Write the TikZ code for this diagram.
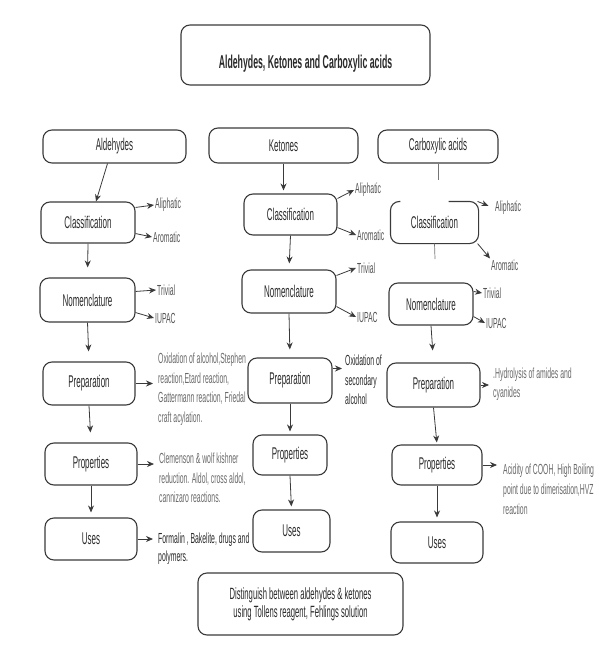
\documentclass[tikz,border=0pt]{standalone}
\usepackage{fontspec}
\setmainfont{Liberation Sans}[FakeStretch=0.47]
\usetikzlibrary{arrows.meta}
\definecolor{boxgray}{HTML}{3A3A3A}
\definecolor{inkdark}{HTML}{2A2A2A}
\definecolor{tagray}{HTML}{555555}
\definecolor{notegray}{HTML}{6A6A6A}

\begin{document}
\begin{tikzpicture}[x=1pt, y=-1pt,
	box/.style={draw=boxgray, line width=1.1pt, rounded corners=9pt, text=inkdark, font=\fontsize{17}{20}\selectfont, inner sep=2pt},
	boxline/.style={draw=boxgray, line width=1.1pt, rounded corners=9pt},
	tag/.style={text=tagray, font=\fontsize{14.6}{16}\selectfont, inner sep=1pt, anchor=west},
	note/.style={text=notegray, font=\fontsize{14.6}{19.5}\selectfont, align=left, inner sep=1pt, anchor=west},
	arr/.style={draw=boxgray, line width=0.8pt, -{Stealth[length=7pt,width=6pt]}},
	stub/.style={draw=boxgray!70, line width=0.7pt}]
			%%%%% START %%%%%
			
			\useasboundingbox (0,0) rectangle (613,647);
			
			\node[box, minimum width=249pt, minimum height=60pt, font=\bfseries\fontsize{18.6}{22}\selectfont, text height=30pt, text depth=2pt] (title) at (305.5,55) {Aldehydes, Ketones and Carboxylic acids};
			
			\node[box, minimum width=143pt, minimum height=33pt] (ald) at (114.5,146.5) {Aldehydes};
			\node[box, minimum width=149pt, minimum height=35pt] (ket) at (283.5,145.5) {Ketones};
			\node[box, minimum width=120pt, minimum height=33pt] (carb) at (438,146.5) {Carboxylic acids};
			
			\node[box, minimum width=94pt, minimum height=41pt] (acl) at (88,222.5) {Classification};
			\node[box, minimum width=95pt, minimum height=44pt] (anm) at (87.5,300) {Nomenclature};
			\node[box, minimum width=92pt, minimum height=43pt] (apr) at (89,383.5) {Preparation};
			\node[box, minimum width=92pt, minimum height=42pt] (apo) at (91,464) {Properties};
			\node[box, minimum width=92pt, minimum height=42pt] (aus) at (91,539) {Uses};
			
			\node[box, minimum width=93pt, minimum height=41pt] (kcl) at (290.5,214.5) {Classification};
			\node[box, minimum width=94pt, minimum height=43pt] (knm) at (289,291.5) {Nomenclature};
			\node[box, minimum width=84pt, minimum height=45pt] (kpr) at (290,380.5) {Preparation};
			\node[box, minimum width=74pt, minimum height=40pt] (kpo) at (290,455) {Properties};
			\node[box, minimum width=77pt, minimum height=42pt] (kus) at (291.5,531) {Uses};
			
			\node[box, draw=none, minimum width=87pt, minimum height=41pt] (ccl) at (434.5,222.5) {Classification};
			\draw[boxline] ([xshift=14pt]ccl.north) -- (ccl.north east) -- (ccl.south east) -- (ccl.south west) -- (ccl.north west) -- ([xshift=10pt]ccl.north west);
			\node[box, minimum width=84pt, minimum height=42pt] (cnm) at (431,304) {Nomenclature};
			\node[box, minimum width=93pt, minimum height=44pt] (cpr) at (433.5,385) {Preparation};
			\node[box, minimum width=90pt, minimum height=40pt] (cpo) at (437,465) {Properties};
			\node[box, minimum width=92pt, minimum height=41pt] (cus) at (437,542.5) {Uses};
			
			\node[box, minimum width=205pt, minimum height=62pt, align=center, font=\fontsize{16.3}{18}\selectfont] (dis) at (300.5,604) {Distinguish between aldehydes \& ketones\\using Tollens reagent, Fehlings solution};
			
			% aldehydes side texts
			\node[tag] (aal) at (154,205) {Aliphatic};
			\node[tag] (aar) at (152,237) {Aromatic};
			\node[tag] (atr) at (156,290) {Trivial};
			\node[tag] (aiu) at (154,318) {IUPAC};
			\node[note] (apd) at (157,389) {Oxidation of alcohol,Stephen\\reaction,Etard reaction,\\Gattermann reaction, Friedal\\craft acylation.};
			\node[note] (aod) at (158,478) {Clemenson \& wolf kishner\\reduction. Aldol, cross aldol,\\cannizaro reactions.};
			\node[note, text=inkdark, font=\fontsize{14.6}{18}\selectfont] (aud) at (157,549) {Formalin , Bakelite, drugs and\\polymers.};
			
			% ketones side texts
			\node[tag] (kal) at (354,190) {Aliphatic};
			\node[tag] (kar) at (356,235) {Aromatic};
			\node[tag] (ktr) at (356,268) {Trivial};
			\node[tag] (kiu) at (356,317) {IUPAC};
			\node[note, text=inkdark] (kpd) at (344,380) {Oxidation of\\secondary\\alcohol};
			
			% carboxylic side texts
			\node[tag] (cal) at (494,208) {Aliphatic};
			\node[tag] (car) at (490,265) {Aromatic};
			\node[tag] (ctr) at (482,293) {Trivial};
			\node[tag] (ciu) at (485,323) {IUPAC};
			\node[note] (cpd) at (492,384) {.Hydrolysis of amides and\\cyanides};
			\node[note, font=\fontsize{14.6}{20}\selectfont] (cod) at (502,489) {Acidity of COOH, High Boiling\\point due to dimerisation,HVZ\\reaction};
			
			\coordinate (cst1) at (438,180);
			\coordinate (cst2) at (435,259);
			
			% downward links
			\draw[arr] ([xshift=-7pt]ald.south) -- ([xshift=8pt]acl.north);
			\draw[arr, shorten >=10pt] (acl.south) -- (anm.north);
			\draw[arr, shorten >=10pt] (anm.south) -- (apr.north);
			\draw[arr, shorten >=10pt] (apr.south) -- (apo.north);
			\draw[arr, shorten >=5pt] (apo.south) -- (aus.north);
			
			\draw[arr, shorten >=3pt] (ket.south) -- (ket.south |- kcl.north);
			\draw[arr, shorten >=6pt] (kcl.south) -- (knm.north);
			\draw[arr, shorten >=8pt] (knm.south) -- (kpr.north);
			\draw[arr, shorten >=3pt] (kpr.south) -- (kpo.north);
			\draw[arr, shorten >=3pt] (kpo.south) -- (kus.north);
			
			\draw[stub] (carb.south) -- (cst1);
			\draw[stub] (ccl.south) -- (cst2);
			\draw[arr, shorten >=12pt] (cnm.south) -- (cpr.north);
			\draw[arr, shorten >=2pt] (cpr.south) -- (cpo.north);
			\draw[arr, shorten >=4pt] (cpo.south) -- (cus.north);
			
			% side links
			\draw[arr] ([yshift=-6pt]acl.north east) -- (aal.west);
			\draw[arr] ([yshift=10pt]acl.south east) -- (aar.west);
			\draw[arr] ([yshift=-14pt]anm.north east) -- (atr.west);
			\draw[arr] ([yshift=10pt]anm.south east) -- (aiu.west);
			\draw[arr, shorten >=4pt] (apr.east) -- (apr.east -| apd.west);
			\draw[arr, shorten >=4pt] (apo.east) -- (apo.east -| aod.west);
			\draw[arr, shorten >=4pt] (aus.east) -- (aus.east -| aud.west);
			
			\draw[arr] ([yshift=-5pt]kcl.north east) -- (kal.west);
			\draw[arr] ([yshift=8pt]kcl.south east) -- (kar.west);
			\draw[arr] ([yshift=-6pt]knm.north east) -- (ktr.west);
			\draw[arr] ([yshift=7pt]knm.south east) -- (kiu.west);
			\draw[arr, shorten >=2pt] ([yshift=12pt]kpr.east) -- ([yshift=12pt]kpr.east -| kpd.west);
			
			\draw[arr, shorten >=6pt] ([xshift=-1pt]ccl.north east) -- (cal.west);
			\draw[arr] ([xshift=-1pt]ccl.south east) -- (car.north west);
			\draw[arr] ([yshift=-9pt]cnm.north east) -- (ctr.west);
			\draw[arr] ([yshift=9pt]cnm.south east) -- (ciu.west);
			\draw[arr, shorten >=3pt] (cpr.east) -- (cpr.east -| cpd.west);
			\draw[arr, shorten >=5pt] (cpo.east) -- (cpo.east -| cod.west);
			
			%%%%% END %%%%%
\end{tikzpicture}
\end{document}
